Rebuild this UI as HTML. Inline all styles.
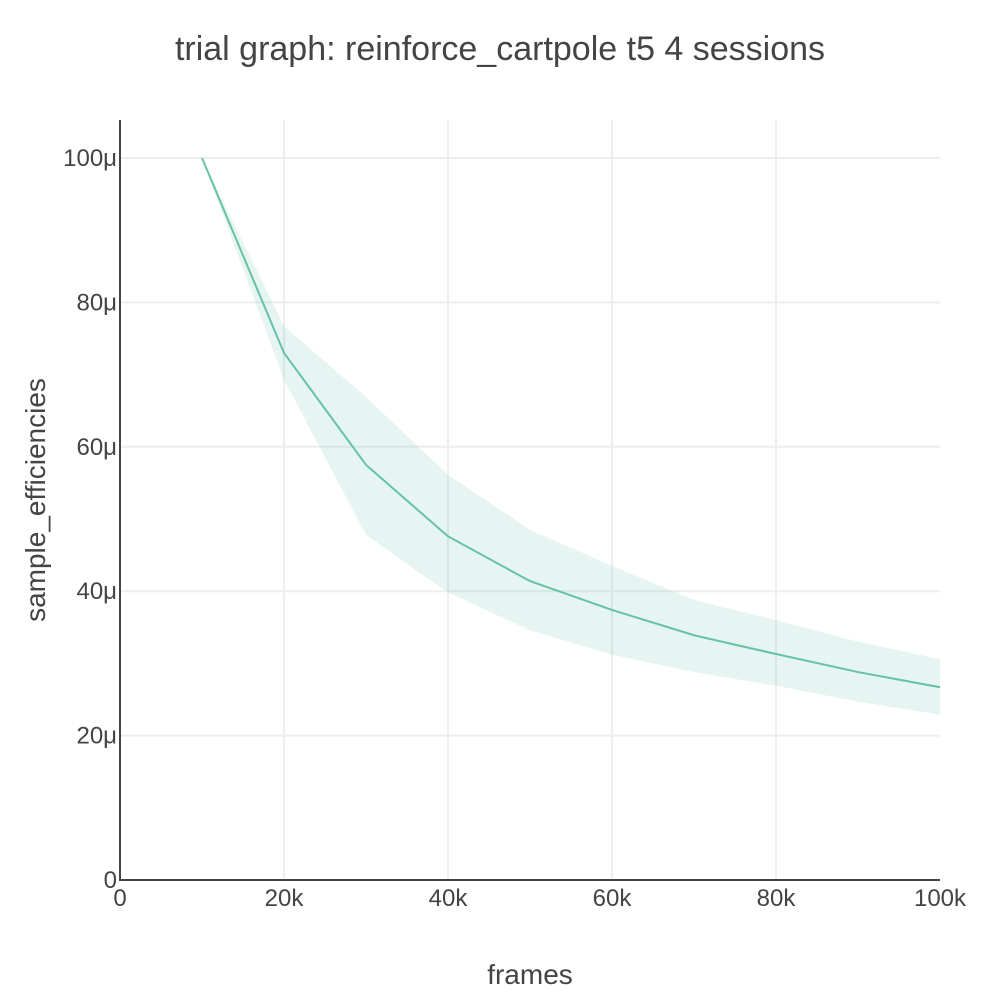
<!DOCTYPE html>
<html><head><meta charset="utf-8"><style>
body{margin:0;background:#fff;}
svg text{font-family:"Liberation Sans",sans-serif;fill:#444;}
</style></head><body>
<svg id="chart" width="1000" height="1000">
<text x="500" y="60" text-anchor="middle" font-size="34">trial graph: reinforce_cartpole t5 4 sessions</text>
<g id="grid"></g>
<g id="band"></g>
<g id="line"></g>
<g id="axes"></g>
<text x="530" y="984" text-anchor="middle" font-size="28">frames</text>
<text transform="translate(45,500) rotate(-90)" text-anchor="middle" font-size="28">sample_efficiencies</text>
</svg>
<script>
const frames=[10000,20000,30000,40000,50000,60000,70000,80000,90000,100000];
const meanVals=[100,73.0,57.5,47.6,41.4,37.4,33.9,31.3,28.8,26.7];
const upperVals=[100,76.7,66.9,56.1,48.5,43.5,38.8,36.0,33.0,30.6];
const lowerVals=[100,69.3,47.8,39.8,34.6,31.2,28.8,26.9,24.7,22.9];
const xTicks=[0,20000,40000,60000,80000,100000];
const xTickLabels=["0","20k","40k","60k","80k","100k"];
const yTicks=[0,20,40,60,80,100];
const yTickLabels=["0","20μ","40μ","60μ","80μ","100μ"];
const NS="http://www.w3.org/2000/svg";
const X=v=>120+v/100000*820;
const Y=v=>880-v*7.22;
function mk(tag,attrs,parent,text){const e=document.createElementNS(NS,tag);for(const k in attrs)e.setAttribute(k,attrs[k]);if(text!==undefined)e.textContent=text;document.getElementById(parent).appendChild(e);return e;}
yTicks.forEach((t,i)=>{
  if(t>0){const g=mk('line',{x1:120,x2:940,y1:Y(t),y2:Y(t),stroke:'#eee','stroke-width':2},'grid');
  
  }
  const l=mk('text',{x:117,y:Y(t)+8,'text-anchor':'end','font-size':24},'axes',yTickLabels[i]);
  
  
});
xTicks.forEach((t,i)=>{
  if(t>0 && t<100000){const g=mk('line',{x1:X(t),x2:X(t),y1:120,y2:880,stroke:'#eee','stroke-width':2},'grid');
  
  }
  const l=mk('text',{x:X(t),y:906,'text-anchor':'middle','font-size':24},'axes',xTickLabels[i]);
  
  
});
let pts=frames.map((f,i)=>X(f)+','+Y(upperVals[i]));
pts=pts.concat(frames.map((f,i)=>X(f)+','+Y(lowerVals[i])).reverse());
const band=mk('polygon',{points:pts.join(' '),fill:'rgba(102,194,165,0.16)'},'band');


const ln=mk('polyline',{points:frames.map((f,i)=>X(f)+','+Y(meanVals[i])).join(' '),fill:'none',stroke:'#66c2a5','stroke-width':2},'line');


const ya=mk('line',{x1:120,x2:120,y1:120,y2:881,stroke:'#444','stroke-width':2},'axes');


const xa=mk('line',{x1:119,x2:940,y1:880,y2:880,stroke:'#444','stroke-width':2},'axes');


</script>
</body></html>
